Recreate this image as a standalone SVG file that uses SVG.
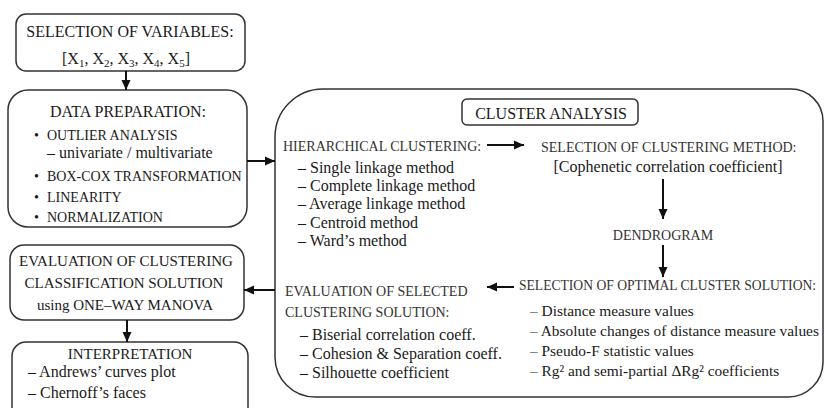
<svg xmlns="http://www.w3.org/2000/svg" width="825" height="408" viewBox="0 0 825 408" font-family="'Liberation Serif', 'Times New Roman', 'DejaVu Serif', serif">
<style>
.box{fill:#fff;stroke:#333;stroke-width:1.5}
text{font-family:'Liberation Serif','Times New Roman','DejaVu Serif',serif;fill:#1a1a1a}
.h{font-size:16px}
.c{font-size:15px}
.s{font-size:14px}
.g{font-size:14px;fill:#333}
.i{font-size:16px}
.r{font-size:15.4px}
.m{text-anchor:middle}
.ln{stroke:#111;stroke-width:2;fill:none}
</style>
<defs>
<marker id="ah" markerUnits="userSpaceOnUse" markerWidth="10" markerHeight="10" refX="10" refY="5" orient="auto">
<path d="M0,0.5 L10,5 L0,9.5 z" fill="#111"/>
</marker>
</defs>
<rect width="825" height="408" fill="#fff"/>

<g id="selection-of-variables">
<rect class="box" x="16" y="14" width="229" height="57" rx="10"/>
<text class="h m" x="130" y="37">SELECTION OF VARIABLES:</text>
<text class="h m" x="126" y="64">[X<tspan font-size="11" dy="3">1</tspan><tspan dy="-3">, X</tspan><tspan font-size="11" dy="3">2</tspan><tspan dy="-3">, X</tspan><tspan font-size="11" dy="3">3</tspan><tspan dy="-3">, X</tspan><tspan font-size="11" dy="3">4</tspan><tspan dy="-3">, X</tspan><tspan font-size="11" dy="3">5</tspan><tspan dy="-3">]</tspan></text>
</g>

<g id="data-preparation">
<rect class="box" x="8" y="90" width="239" height="137" rx="20"/>
<text class="h m" x="128" y="117">DATA PREPARATION:</text>
<text class="s" x="34" y="140">•</text>
<text class="s" x="47" y="140">OUTLIER ANALYSIS</text>
<text class="i" x="47" y="158">– univariate / multivariate</text>
<text class="s" x="34" y="181">•</text>
<text class="s" x="47" y="181">BOX-COX TRANSFORMATION</text>
<text class="s" x="34" y="202">•</text>
<text class="s" x="47" y="202">LINEARITY</text>
<text class="s" x="34" y="222">•</text>
<text class="s" x="47" y="222">NORMALIZATION</text>
</g>

<g id="evaluation-manova">
<rect class="box" x="10" y="245" width="234" height="75" rx="14"/>
<text class="c m" x="126" y="266">EVALUATION OF CLUSTERING</text>
<text class="c m" x="124" y="288">CLASSIFICATION SOLUTION</text>
<text class="c m" x="125" y="310">using ONE–WAY MANOVA</text>
</g>

<g id="interpretation">
<rect class="box" x="12" y="342" width="236" height="90" rx="14"/>
<text class="c m" x="130" y="359">INTERPRETATION</text>
<text class="i" x="28" y="377">– Andrews’ curves plot</text>
<text class="i" x="28" y="398">– Chernoff’s faces</text>
</g>

<g id="cluster-analysis">
<path class="box" d="M323,89 H791 A32,32 0 0 1 823,121 V362 A35,35 0 0 1 788,397 H315 A40,40 0 0 1 275,357 V137 A48,48 0 0 1 323,89 Z"/>
<rect class="box" x="462" y="99" width="176" height="26" rx="5"/>
<text class="h m" x="551" y="119">CLUSTER ANALYSIS</text>
</g>

<g id="hierarchical-clustering">
<text class="g" x="283" y="151">HIERARCHICAL CLUSTERING:</text>
<text class="i" x="298" y="173">– Single linkage method</text>
<text class="i" x="298" y="191">– Complete linkage method</text>
<text class="i" x="298" y="209">– Average linkage method</text>
<text class="i" x="298" y="228">– Centroid method</text>
<text class="i" x="298" y="246">– Ward’s method</text>
</g>

<g id="selection-of-clustering-method">
<text class="g" x="541" y="152">SELECTION OF CLUSTERING METHOD:</text>
<text class="i m" x="668" y="172">[Cophenetic correlation coefficient]</text>
</g>

<g id="dendrogram">
<text class="g m" x="663" y="240">DENDROGRAM</text>
</g>

<g id="selection-of-optimal-cluster-solution">
<text class="g" x="519" y="290" font-size="13.6" style="font-size:13.6px">SELECTION OF OPTIMAL CLUSTER SOLUTION:</text>
<text class="r" x="530" y="316">– Distance measure values</text>
<text class="r" x="530" y="336">– Absolute changes of distance measure values</text>
<text class="r" x="530" y="356">– Pseudo-F statistic values</text>
<text class="r" x="530" y="376">– Rg² and semi-partial ΔRg² coefficients</text>
</g>

<g id="evaluation-of-selected">
<text class="g" x="285" y="296">EVALUATION OF SELECTED</text>
<text class="g" x="285" y="317">CLUSTERING SOLUTION:</text>
<text class="i" x="300" y="340">– Biserial correlation coeff.</text>
<text class="i" x="300" y="359">– Cohesion &amp; Separation coeff.</text>
<text class="i" x="300" y="378">– Silhouette coefficient</text>
</g>

<g id="connectors">
<line class="ln" x1="126" y1="71" x2="126" y2="90" marker-end="url(#ah)"/>
<line class="ln" x1="247" y1="161" x2="275" y2="161" marker-end="url(#ah)"/>
<line class="ln" x1="275" y1="290" x2="244" y2="290" marker-end="url(#ah)"/>
<line class="ln" x1="127" y1="320" x2="127" y2="342" marker-end="url(#ah)"/>
<line class="ln" x1="487" y1="145" x2="524" y2="145" marker-end="url(#ah)"/>
<line class="ln" x1="663" y1="179" x2="663" y2="219" marker-end="url(#ah)"/>
<line class="ln" x1="663" y1="245" x2="663" y2="277" marker-end="url(#ah)"/>
<line class="ln" x1="514" y1="287" x2="487" y2="287" marker-end="url(#ah)"/>
</g>
</svg>
